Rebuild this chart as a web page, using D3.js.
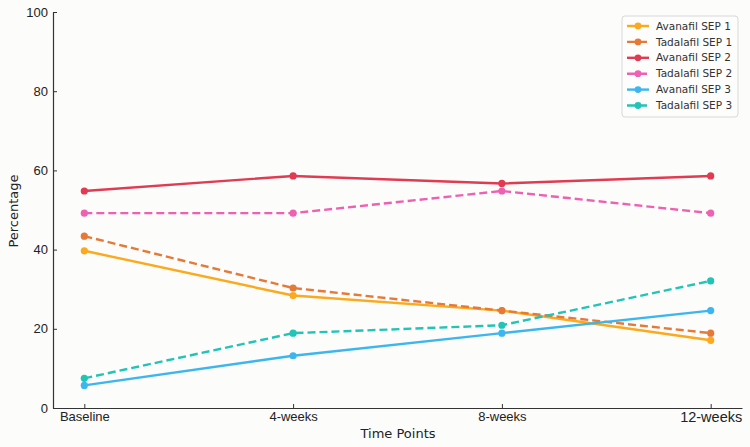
<!DOCTYPE html>
<html>
<head>
<meta charset="utf-8">
<script src="https://cdn.jsdelivr.net/npm/d3@7"></script>
<style>
  body { margin: 0; background: #fcfcfa; }
  svg { display: block; font-family: "DejaVu Sans", sans-serif; }
</style>
</head>
<body>
<svg id="chart" width="750" height="447"></svg>
<script>
const timePoints = ["Baseline", "4-weeks", "8-weeks", "12-weeks"];
const seriesNames = ["Avanafil SEP 1", "Tadalafil SEP 1", "Avanafil SEP 2", "Tadalafil SEP 2", "Avanafil SEP 3", "Tadalafil SEP 3"];
const avanafilSep1 = [39.7, 28.4, 24.6, 17.1];
const tadalafilSep1 = [43.4, 30.3, 24.6, 18.9];
const avanafilSep2 = [54.8, 58.6, 56.7, 58.6];
const tadalafilSep2 = [49.2, 49.2, 54.8, 49.2];
const avanafilSep3 = [5.7, 13.2, 18.9, 24.6];
const tadalafilSep3 = [7.5, 18.9, 20.9, 32.1];
const yTicks = [0, 20, 40, 60, 80, 100];

const colors = ["#fba91d", "#e57a38", "#e03b52", "#ee60b2", "#3cb6ef", "#22c4b8"];
const dashed = [false, true, false, true, false, true];
const values = [avanafilSep1, tadalafilSep1, avanafilSep2, tadalafilSep2, avanafilSep3, tadalafilSep3];

const series = seriesNames.map((name, i) => ({
  name: name,
  color: colors[i],
  dashed: dashed[i],
  points: values[i].map((v, j) => ({ t: j, v: v }))
}));

const svg = d3.select("#chart");
const plotLeft = 53, plotRight = 742, plotTop = 12, plotBottom = 408;

// matplotlib-style 5% margin on the x range
const x = d3.scaleLinear().domain([-0.15, 3.15]).range([plotLeft, plotRight]);
const y = d3.scaleLinear().domain([0, 100]).range([plotBottom, plotTop]);

const axisColor = "#333";

// x axis
const xAxis = svg.append("g")
  .attr("transform", `translate(0,${plotBottom})`)
  .call(d3.axisBottom(x)
    .tickValues(d3.range(timePoints.length))
    .tickFormat(i => timePoints[i])
    .tickSizeInner(-4)
    .tickSizeOuter(0)
    .tickPadding(4));
xAxis.select(".domain").attr("stroke", axisColor).attr("stroke-width", 1.2);
xAxis.selectAll(".tick line").attr("stroke", axisColor);
xAxis.selectAll(".tick text")
  .attr("fill", "#222")
  .style("font-size", (d, i) => i === timePoints.length - 1 ? "14.5px" : "13px");

// y axis
const yAxis = svg.append("g")
  .attr("transform", `translate(${plotLeft},0)`)
  .call(d3.axisLeft(y)
    .tickValues(yTicks)
    .tickSizeInner(-4)
    .tickSizeOuter(0)
    .tickPadding(5));
yAxis.select(".domain").attr("stroke", axisColor).attr("stroke-width", 1.2);
yAxis.selectAll(".tick line").attr("stroke", axisColor);
yAxis.selectAll(".tick text").attr("fill", "#222").style("font-size", "13px");

// axis titles
svg.append("text")
  .attr("x", 398)
  .attr("y", 438)
  .attr("text-anchor", "middle")
  .attr("fill", "#222")
  .style("font-size", "13px")
  .text("Time Points");

svg.append("text")
  .attr("transform", "translate(18,211) rotate(-90)")
  .attr("text-anchor", "middle")
  .attr("fill", "#222")
  .style("font-size", "13px")
  .text("Percentage");

// lines
const line = d3.line()
  .x(d => x(d.t))
  .y(d => y(d.v));

const groups = svg.append("g").selectAll("g")
  .data(series)
  .enter().append("g");

groups.append("path")
  .attr("d", d => line(d.points))
  .attr("fill", "none")
  .attr("stroke", d => d.color)
  .attr("stroke-width", 2.4)
  .attr("stroke-dasharray", d => d.dashed ? "8,4" : null);

groups.selectAll("circle")
  .data(d => d.points.map(p => ({ ...p, color: d.color })))
  .enter().append("circle")
  .attr("cx", d => x(d.t))
  .attr("cy", d => y(d.v))
  .attr("r", 3.6)
  .attr("fill", d => d.color);

// legend
const legend = svg.append("g").attr("transform", "translate(622,16)");
legend.append("rect")
  .attr("width", 116)
  .attr("height", 101)
  .attr("rx", 3)
  .attr("fill", "#fdfdfc")
  .attr("stroke", "#d8d8d8");

const rows = legend.selectAll(".row")
  .data(series)
  .enter().append("g")
  .attr("class", "row")
  .attr("transform", (d, i) => `translate(0,${10 + i * 15.9})`);

rows.append("line")
  .attr("x1", 5).attr("x2", 27)
  .attr("stroke", d => d.color)
  .attr("stroke-width", 2.4)
  .attr("stroke-dasharray", d => d.dashed ? "8,4" : null);

rows.append("circle")
  .attr("cx", 16)
  .attr("r", 3.4)
  .attr("fill", d => d.color);

rows.append("text")
  .attr("x", 34)
  .attr("dy", "0.35em")
  .attr("fill", "#333")
  .style("font-size", "10.5px")
  .text(d => d.name);
</script>
</body>
</html>
